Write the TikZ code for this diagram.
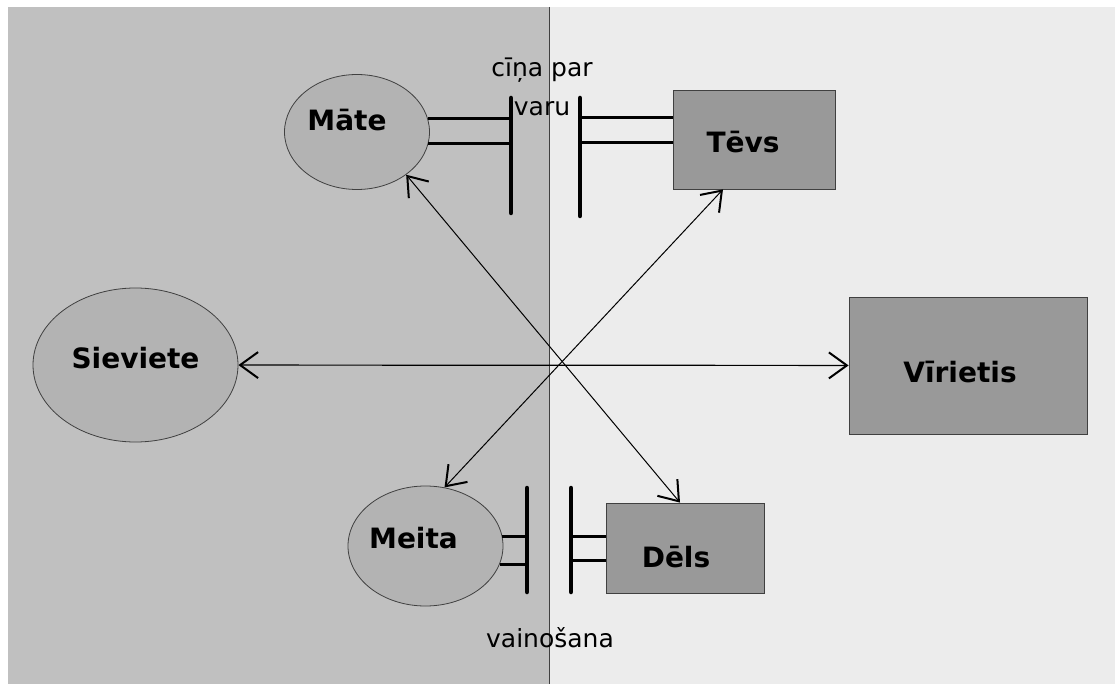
\documentclass[tikz,border=0pt]{standalone}
\usepackage{fontspec}
\setmainfont{DejaVu Sans}
\usetikzlibrary{shapes.geometric,arrows.meta}
\definecolor{leftbg}{RGB}{192,192,192}
\definecolor{rightbg}{RGB}{236,236,236}
\definecolor{ovalfill}{RGB}{179,179,179}
\definecolor{rectfill}{RGB}{153,153,153}
\definecolor{edgegray}{RGB}{64,64,64}

\begin{document}
\begin{tikzpicture}[x=1pt,y=-1pt,
    femnode/.style={ellipse,draw=edgegray,fill=ovalfill,line width=0.8pt,inner sep=0pt},
    malenode/.style={rectangle,draw=edgegray,fill=rectfill,line width=0.8pt,inner sep=0pt},
    nodetext/.style={font=\fontsize{28}{30}\selectfont\bfseries},
    caption/.style={font=\fontsize{25}{39}\selectfont,align=center,inner sep=0pt},
    wallbar/.style={line width=4.5pt,line cap=round},
    stub/.style={line width=3pt},
    dblarrow/.style={>={Straight Barb[length=18pt,width=26pt,line width=2pt]},<->,line width=1.2pt}]
        % 背景
        \useasboundingbox (0,0) rectangle (1115,684);
        \fill[leftbg] (8,7) rectangle (549,684);
        \fill[rightbg] (549,7) rectangle (1115,684);
        \draw[edgegray,line width=1pt] (549,7) -- (549,684);

        % 节点
        \node[femnode,minimum width=145pt,minimum height=115pt,
          label={[nodetext,xshift=-10pt,yshift=12pt]center:Māte}] (mate) at (357,132) {};
        \node[malenode,minimum width=162pt,minimum height=99pt,
          label={[nodetext,xshift=-11pt,yshift=-3pt]center:Tēvs}] (tevs) at (754,139.5) {};
        \node[femnode,minimum width=205pt,minimum height=154pt,
          label={[nodetext,yshift=7pt]center:Sieviete}] (sieviete) at (135.5,365) {};
        \node[malenode,minimum width=238pt,minimum height=137pt,
          label={[nodetext,xshift=-8pt,yshift=-7pt]center:Vīrietis}] (virietis) at (968,365.5) {};
        \node[femnode,minimum width=155pt,minimum height=120pt,
          label={[nodetext,xshift=-12pt,yshift=8pt]center:Meita}] (meita) at (425.5,546) {};
        \node[malenode,minimum width=158pt,minimum height=90pt,
          label={[nodetext,xshift=-9pt,yshift=-9pt]center:Dēls}] (dels) at (685,548) {};

        % 文字
        \node[caption,anchor=base] (cina) at (542,116) {cīņa par\\varu};
        \node[caption,anchor=base] (vainosana) at (550,647) {vainošana};

        % 隔板
        \coordinate (mbartop) at (511,98);
        \coordinate (mbarbot) at (511,213);
        \coordinate (tbartop) at (580,98);
        \coordinate (tbarbot) at (580,216);
        \coordinate (kbartop) at (527,488);
        \coordinate (kbarbot) at (527,592);
        \coordinate (dbartop) at (571,488);
        \coordinate (dbarbot) at (571,592);
        \draw[wallbar] (mbartop) -- (mbarbot);
        \draw[wallbar] (tbartop) -- (tbarbot);
        \draw[wallbar] (kbartop) -- (kbarbot);
        \draw[wallbar] (dbartop) -- (dbarbot);
        \draw[stub] (mate.11) -- (mate.11 -| mbartop);
        \draw[stub] (mate.-9) -- (mate.-9 -| mbartop);
        \draw[stub] (tbartop |- 0,118) -- (tevs.west |- 0,118);
        \draw[stub] (tbartop |- 0,143) -- (tevs.west |- 0,143);
        \draw[stub] (meita.7.5) -- (meita.7.5 -| kbartop);
        \draw[stub] (meita.-14.5) -- (meita.-14.5 -| kbartop);
        \draw[stub] (dbartop |- 0,536) -- (dels.west |- 0,536);
        \draw[stub] (dbartop |- 0,560) -- (dels.west |- 0,560);

        % 箭头
        \draw[dblarrow] (sieviete) -- (virietis);
        \draw[dblarrow,line width=1pt] (mate.-41) -- ([xshift=-5pt]dels.north);
        \draw[dblarrow,line width=1pt] ([xshift=-31pt]tevs.south) -- (meita.72);
\end{tikzpicture}
\end{document}
